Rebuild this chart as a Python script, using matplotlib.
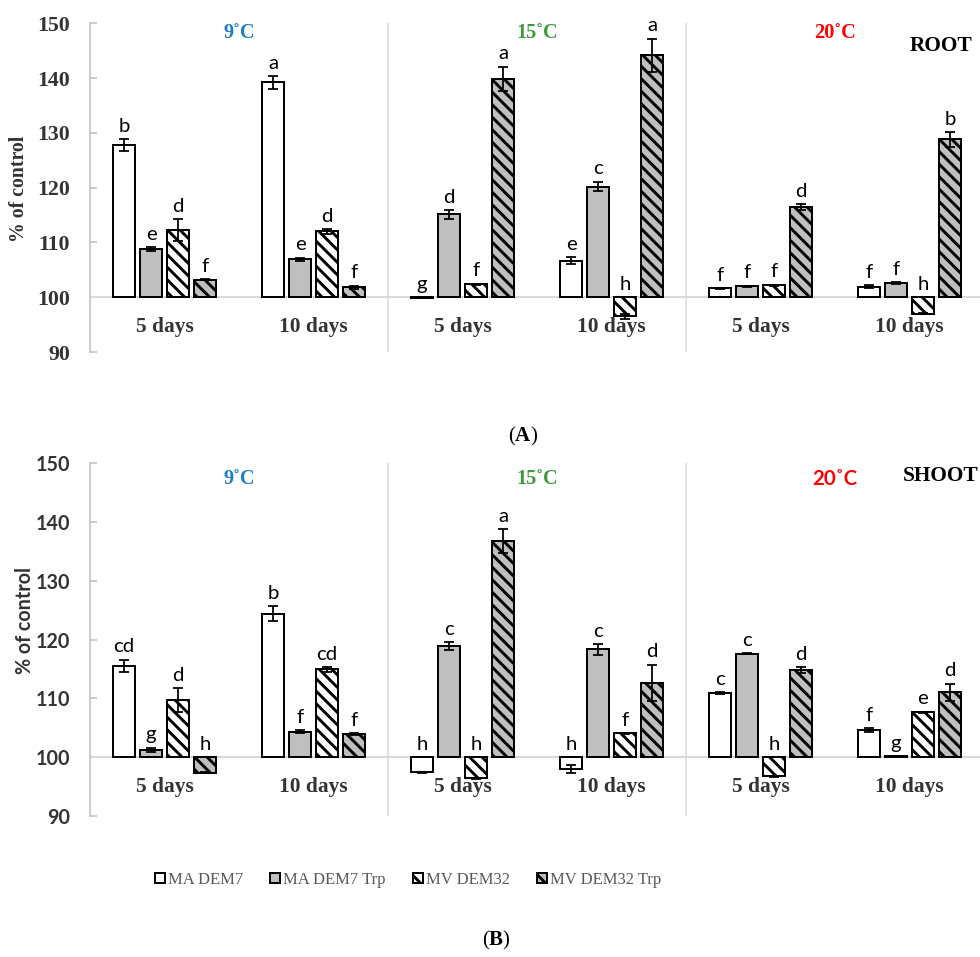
import matplotlib
matplotlib.use("Agg")
import numpy as np
import matplotlib.pyplot as plt

DPI = 75

# ---- data -------------------------------------------------------------
days = ["5 days", "10 days", "5 days", "10 days", "5 days", "10 days"]
temps = ["9˚C", "15˚C", "20˚C"]
temp_colors = ["#1F7FC4", "#3C9A3C", "#FF0000"]
series = ["MA DEM7", "MA DEM7 Trp", "MV DEM32", "MV DEM32 Trp"]

root_ma = [127.7, 139.2, 99.9, 106.7, 101.6, 101.9]
root_ma_trp = [108.8, 106.9, 115.1, 120.2, 102.0, 102.6]
root_mv = [112.2, 112.0, 102.4, 96.5, 102.2, 97.0]
root_mv_trp = [103.2, 101.8, 139.9, 144.2, 116.5, 128.8]

root_ma_err = [1.1, 1.2, 0.0, 0.6, 0.1, 0.25]
root_ma_trp_err = [0.4, 0.3, 0.8, 0.9, 0.1, 0.1]
root_mv_err = [2.0, 0.4, 0.1, 0.5, 0.1, 0.1]
root_mv_trp_err = [0.1, 0.3, 2.2, 3.0, 0.5, 1.3]

root_letters = [
    ["b", "a", "g", "e", "f", "f"],
    ["e", "e", "d", "c", "f", "f"],
    ["d", "d", "f", "h", "f", "h"],
    ["f", "f", "a", "a", "d", "b"],
]

shoot_ma = [115.5, 124.4, 97.4, 97.9, 110.9, 104.6]
shoot_ma_trp = [101.2, 104.3, 118.9, 118.3, 117.6, 100.1]
shoot_mv = [109.7, 114.9, 96.4, 104.0, 96.7, 107.6]
shoot_mv_trp = [97.3, 103.9, 136.8, 112.6, 114.8, 111.0]

shoot_ma_err = [1.05, 1.25, 0.1, 0.7, 0.1, 0.3]
shoot_ma_trp_err = [0.4, 0.3, 0.7, 0.9, 0.1, 0.05]
shoot_mv_err = [2.0, 0.4, 0.1, 0.1, 0.1, 0.1]
shoot_mv_trp_err = [0.1, 0.2, 2.0, 3.1, 0.5, 1.5]

shoot_letters = [
    ["cd", "b", "h", "h", "c", "f"],
    ["g", "f", "c", "c", "c", "g"],
    ["d", "cd", "h", "f", "h", "e"],
    ["h", "f", "a", "d", "d", "d"],
]

yticks = [90, 100, 110, 120, 130, 140, 150]

# ---- style ------------------------------------------------------------
fills = ["white", "#BFBFBF", "white", "#BFBFBF"]
hatches = ["", "", "\\\\", "\\\\"]
SERIF = ["Liberation Serif", "DejaVu Serif"]
SANS = ["Lato", "DejaVu Sans"]
plt.rcParams["hatch.linewidth"] = 2.8
plt.rcParams["mathtext.fontset"] = "custom"
plt.rcParams["mathtext.rm"] = "Liberation Serif"
plt.rcParams["mathtext.bf"] = "Liberation Serif:bold"

bar_w = 0.148
step = 0.181
offsets = [(-1.5 + i) * step for i in range(4)]


def draw_panel(ax, values, errors, letters, panel_name, tick_family, ylab_family,
               temp_families, temp_y, name_y, day_y, ylabel_xy, tick_size):
    x = np.arange(len(days))
    handles = []
    for i in range(4):
        vals = np.array(values[i])
        h = ax.bar(x + offsets[i], vals - 100, bottom=100, width=bar_w,
                   color=fills[i], edgecolor="black", linewidth=1.9,
                   hatch=hatches[i], zorder=3, label=series[i])
        handles.append(h)
        ax.errorbar(x + offsets[i], vals, yerr=errors[i], fmt="none",
                    ecolor="black", elinewidth=1.7, capsize=5, capthick=1.7,
                    zorder=4)
        for j in range(len(x)):
            base = vals[j] + errors[i][j] if vals[j] > 100 else 100
            ax.annotate(letters[i][j], (x[j] + offsets[i], base),
                        xytext=(0, 7), textcoords="offset points",
                        ha="center", va="baseline", fontsize=19.5,
                        family=SANS, color="black", zorder=5)

    ax.axhline(100, color="#D9D9D9", lw=2, zorder=2)
    for sep in [1.5, 3.5, 5.5]:
        ax.axvline(sep, color="#D9D9D9", lw=1.5, zorder=1)

    for j in range(len(x)):
        ax.text(x[j], day_y, days[j], ha="center", va="center",
                fontsize=20.5, fontweight="bold", family=SERIF, color="#333333")

    for k in range(3):
        ax.text(2 * k + 0.5, temp_y, temps[k], ha="center", va="center",
                fontsize=19.5, fontweight="bold", family=temp_families[k],
                color=temp_colors[k])
    ax.text(5.21, name_y, panel_name, ha="center", va="center",
            fontsize=20.5, fontweight="bold", family=SERIF, color="black")

    ax.set_xlim(-0.5, 5.5)
    ax.set_ylim(90, 150)
    ax.set_xticks([])
    ax.set_yticks(yticks)
    ax.set_yticklabels([str(t) for t in yticks], family=tick_family,
                       fontweight="bold", fontsize=tick_size, color="#333333")
    ax.tick_params(axis="y", direction="in", length=7, width=1.5,
                   color="#BFBFBF", pad=19)
    for s in ["top", "right", "bottom"]:
        ax.spines[s].set_visible(False)
    ax.spines["left"].set_color("#BFBFBF")
    ax.spines["left"].set_linewidth(1.5)
    ax.patch.set_alpha(0)

    fig.text(ylabel_xy[0] / 980, 1 - ylabel_xy[1] / 957, "% of control",
             rotation=90, ha="center", va="center", fontsize=19,
             fontweight="bold", family=ylab_family, color="#333333")
    return handles


fig = plt.figure(figsize=(980 / DPI, 957 / DPI), dpi=DPI)
ax_root = fig.add_axes([90 / 980, 1 - 352 / 957, 894 / 980, 328.7 / 957])
ax_shoot = fig.add_axes([90 / 980, 1 - 815.7 / 957, 894 / 980, 352.4 / 957])

draw_panel(ax_root,
           [root_ma, root_ma_trp, root_mv, root_mv_trp],
           [root_ma_err, root_ma_trp_err, root_mv_err, root_mv_trp_err],
           root_letters, "ROOT", SERIF, SERIF, [SERIF, SERIF, SERIF],
           temp_y=148.2, name_y=145.9, day_y=94.5,
           ylabel_xy=(19.5, 189), tick_size=21)

handles = draw_panel(ax_shoot,
                     [shoot_ma, shoot_ma_trp, shoot_mv, shoot_mv_trp],
                     [shoot_ma_err, shoot_ma_trp_err, shoot_mv_err, shoot_mv_trp_err],
                     shoot_letters, "SHOOT", SANS, SANS, [SERIF, SERIF, SANS],
                     temp_y=147.4, name_y=147.8, day_y=94.9,
                     ylabel_xy=(25, 621), tick_size=19)

fig.legend(handles, series, loc="center", bbox_to_anchor=(408 / 980, 1 - 880 / 957),
           ncol=4, frameon=False, handlelength=0.6, handleheight=0.6,
           handletextpad=0.2, columnspacing=1.6,
           prop={"family": SERIF, "size": 16}, labelcolor="#595959")

fig.text(523 / 980, 1 - 436 / 957, r"($\mathbf{A}$)", ha="center", va="center",
         fontsize=20, family=SERIF, color="black")
fig.text(496 / 980, 1 - 940 / 957, r"($\mathbf{B}$)", ha="center", va="center",
         fontsize=20, family=SERIF, color="black")

fig.savefig("out.png", dpi=DPI)
